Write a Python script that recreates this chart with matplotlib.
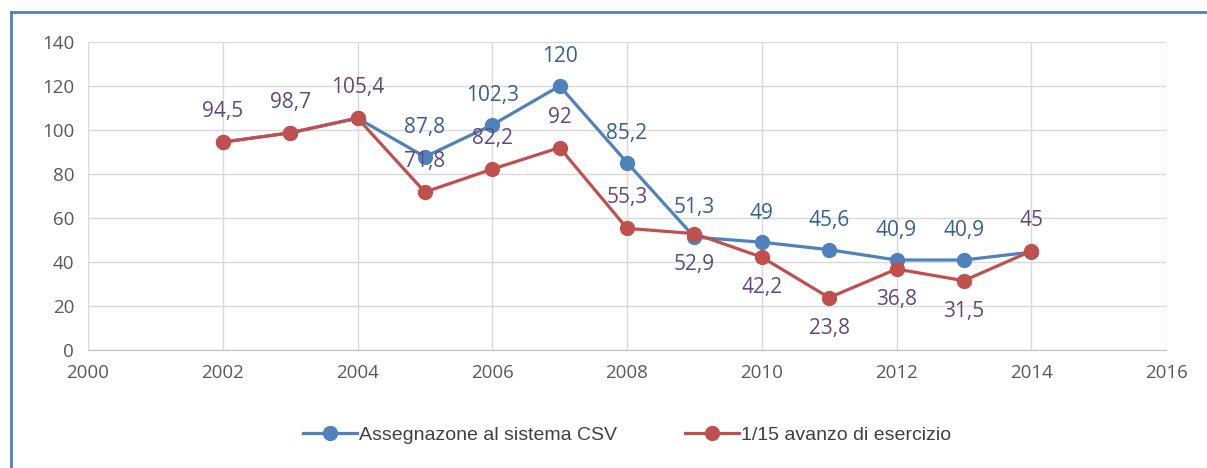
import matplotlib
matplotlib.use('Agg')
import matplotlib.pyplot as plt
from matplotlib.lines import Line2D

# Data
years = [2002, 2003, 2004, 2005, 2006, 2007, 2008, 2009, 2010, 2011, 2012, 2013, 2014]
assegnazione = [94.5, 98.7, 105.4, 87.8, 102.3, 120, 85.2, 51.3, 49, 45.6, 40.9, 40.9, 44.5]
avanzo = [94.5, 98.7, 105.4, 71.8, 82.2, 92, 55.3, 52.9, 42.2, 23.8, 36.8, 31.5, 45]

# which points carry a label, and where (1 above, -1 below, 0 none)
blue_label_pos = [0, 0, 0, 1, 1, 1, 1, 1, 1, 1, 1, 1, 0]
red_label_pos = [1, 1, 1, 1, 1, 1, 1, -1, -1, -1, -1, -1, 1]

x_ticks = [2000, 2002, 2004, 2006, 2008, 2010, 2012, 2014, 2016]
y_ticks = [0, 20, 40, 60, 80, 100, 120, 140]

COLORS = {
    'blue': '#4F81BD',
    'red': '#C0504D',
    'blue_text': '#376092',
    'purple_text': '#604A7B',
    'grid': '#D9D9D9',
    'tick': '#595959',
    'frame': '#4F81BD',
}

plt.rcParams['font.family'] = ['Open Sans', 'DejaVu Sans']


def fmt(v):
    """Italian style number: comma as decimal separator."""
    s = f'{v:g}'
    return s.replace('.', ',')


fig = plt.figure(figsize=(12.07, 4.68), dpi=100)
ax = fig.add_axes([88 / 1207, 1 - 350 / 468, (1166 - 88) / 1207, (350 - 42) / 468])

ax.plot(years, assegnazione, color=COLORS['blue'], linewidth=2.3, marker='o',
        markersize=10, label='Assegnazone al sistema CSV', zorder=3)
ax.plot(years, avanzo, color=COLORS['red'], linewidth=2.3, marker='o',
        markersize=10, label='1/15 avanzo di esercizio', zorder=4)

# data labels
for x, v, p in zip(years, assegnazione, blue_label_pos):
    if p:
        ax.annotate(fmt(v), (x, v), xytext=(0, 21 * p), textcoords='offset points',
                    ha='center', va='center', fontsize=15, color=COLORS['blue_text'], zorder=5)
for x, v, p in zip(years, avanzo, red_label_pos):
    if p:
        ax.annotate(fmt(v), (x, v), xytext=(0, 22 * p), textcoords='offset points',
                    ha='center', va='center', fontsize=15, color=COLORS['purple_text'], zorder=5)

ax.set_xlim(2000, 2016)
ax.set_ylim(0, 140)
ax.set_xticks(x_ticks)
ax.set_yticks(y_ticks)
ax.grid(True, color=COLORS['grid'], linewidth=1)
ax.set_axisbelow(True)
for side in ['top', 'right', 'left']:
    ax.spines[side].set_visible(False)
ax.spines['bottom'].set_color('#BFBFBF')
ax.tick_params(length=0, labelsize=13.5, colors=COLORS['tick'], pad=10)

leg = ax.legend(loc='upper center', bbox_to_anchor=(0.5, -0.19), ncol=2, frameon=False,
                handlelength=2.8, columnspacing=3.5, handletextpad=0.1,
                prop={'family': ['Liberation Sans Narrow', 'Liberation Sans', 'DejaVu Sans'], 'size': 14})
for t in leg.get_texts():
    t.set_color('#404040')

# chart frame (blue border on left and top)
fig.add_artist(Line2D([11 / 1207, 11 / 1207], [0, 1 - 12 / 468], color=COLORS['frame'], linewidth=2))
fig.add_artist(Line2D([11 / 1207, 1], [1 - 12 / 468, 1 - 12 / 468], color=COLORS['frame'], linewidth=2))

fig.savefig('out.png', dpi=100)
